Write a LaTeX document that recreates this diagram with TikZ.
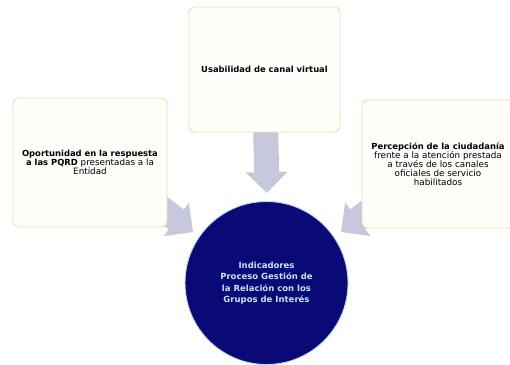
\documentclass[tikz,border=0pt]{standalone}
\usepackage{fontspec}
\setmainfont{DejaVu Sans}
\usetikzlibrary{calc,backgrounds}
\definecolor{navy}{RGB}{10,10,118}
\definecolor{arrowcol}{RGB}{200,200,220}
\definecolor{boxline}{RGB}{236,222,176}
\definecolor{boxfill}{RGB}{255,254,250}
\definecolor{circtext}{RGB}{190,230,255}
\definecolor{circedge}{RGB}{190,215,255}
\newcommand{\bt}[1]{{\bfseries\fontsize{8.4}{9}\selectfont #1}}
\tikzset{
  box/.style={draw=boxline, fill=boxfill, line width=0.9pt, rounded corners=6pt,
    align=center, inner sep=1pt, font=\fontsize{8.8}{9}\selectfont},
  hub/.style={circle, fill=navy, draw=circedge, line width=0.9pt, minimum size=163pt,
    align=center, text=circtext, font=\bfseries\fontsize{8.5}{11.5}\selectfont},
  blockarrow/.style={fill=arrowcol, to path={
    ($(\tikztostart)!12.5pt!90:(\tikztotarget)$)
    -- ($(\tikztotarget)!21pt!(\tikztostart)!12.5pt!-90:(\tikztostart)$)
    -- ($(\tikztotarget)!21pt!(\tikztostart)!21pt!-90:(\tikztostart)$)
    -- (\tikztotarget)
    -- ($(\tikztotarget)!21pt!(\tikztostart)!21pt!90:(\tikztostart)$)
    -- ($(\tikztotarget)!21pt!(\tikztostart)!12.5pt!90:(\tikztostart)$)
    -- ($(\tikztostart)!12.5pt!-90:(\tikztotarget)$) -- cycle}}
}
\begin{document}
\begin{tikzpicture}[x=1pt,y=-1pt]
\useasboundingbox (0,0) rectangle (510,364);
\clip (0,0) rectangle (510,364);
\node[box, minimum width=151pt, minimum height=125pt] (top) at (264.5,69.5)
  {\bt{Usabilidad de canal virtual}};
\node[box, minimum width=154pt, minimum height=129pt] (left) at (90,162.5)
  {\bt{Oportunidad en la respuesta}\\\bt{a las PQRD} presentadas a la\\Entidad};
\node[box, minimum width=152pt, minimum height=128pt] (right) at (438,164)
  {\bt{Percepción de la ciudadanía}\\frente a la atención prestada\\a través de los canales\\oficiales de servicio\\habilitados};
\node[hub] (hub) at (266.5,283) {Indicadores\\Proceso Gestión de\\la Relación con los\\Grupos de Interés};
\coordinate (ttop) at (267,193);
\coordinate (tleft) at (193,232);
\coordinate (tright) at (341,232);
\coordinate (sleft) at (140,192);
\coordinate (sright) at (394,192);
\begin{pgfonlayer}{background}
\path[blockarrow] (top.center) to (ttop);
\path[blockarrow] (sleft) to (tleft);
\path[blockarrow] (sright) to (tright);
\end{pgfonlayer}
\end{tikzpicture}
\end{document}
